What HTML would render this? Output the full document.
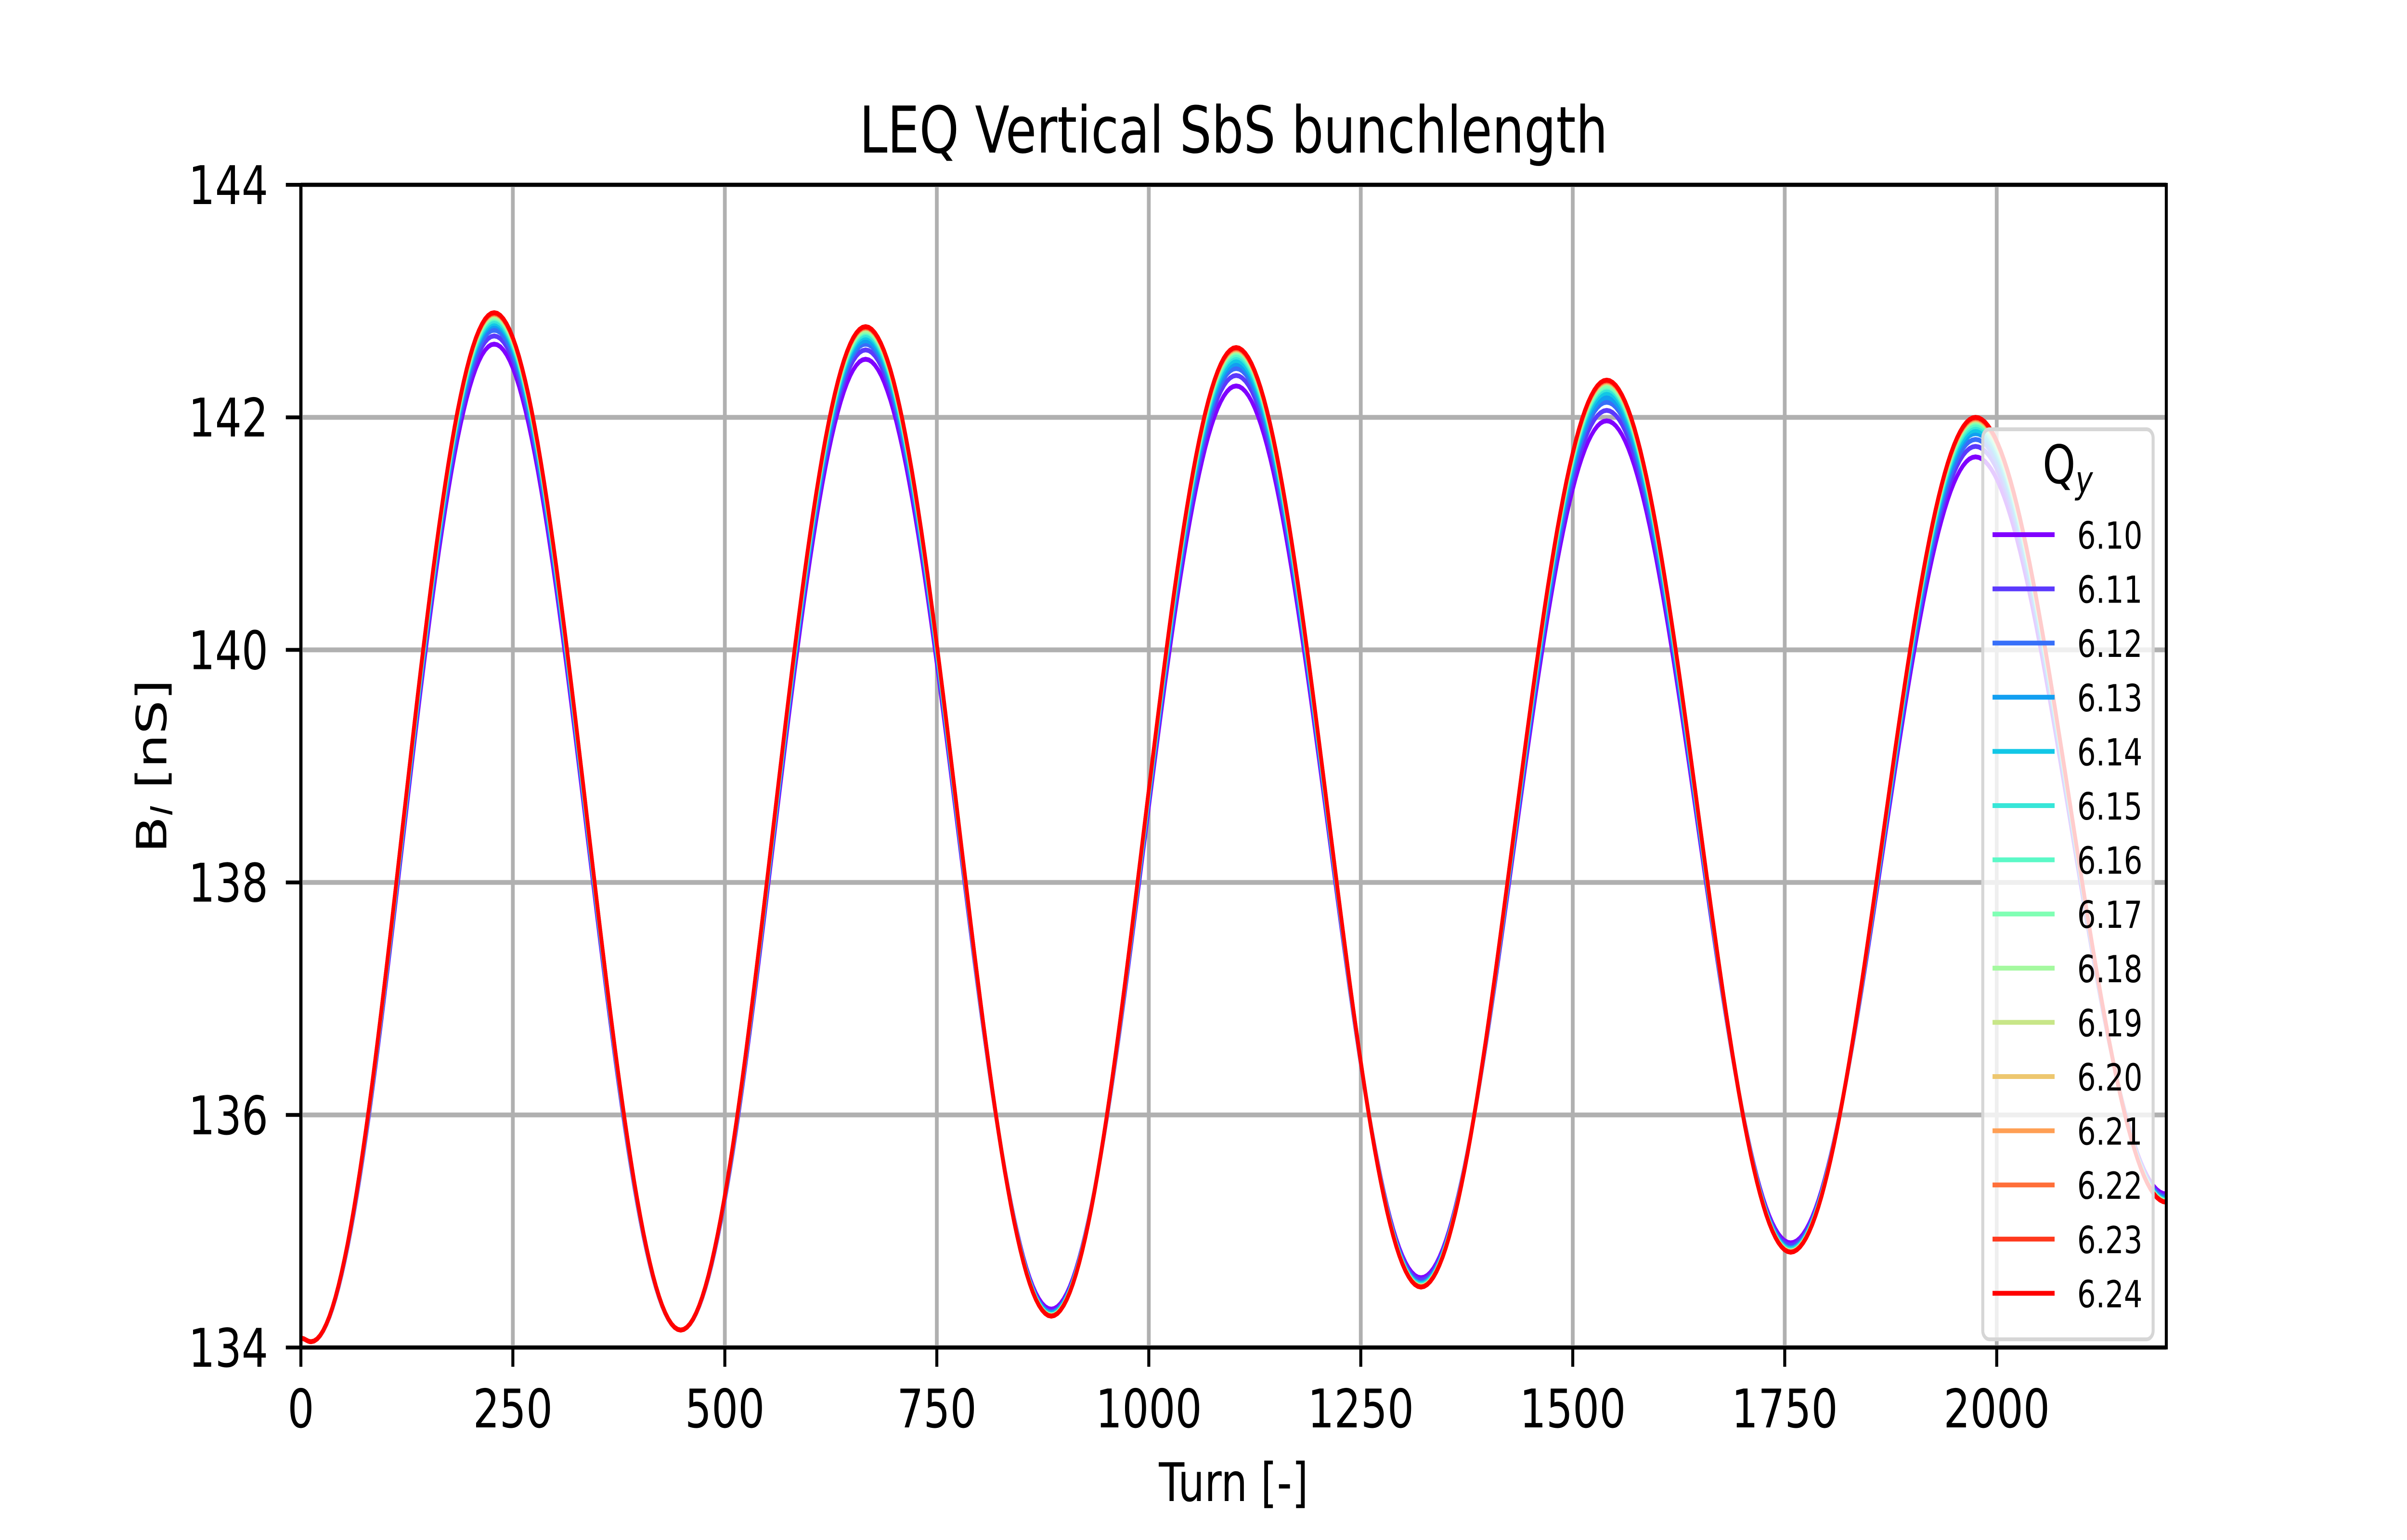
<!DOCTYPE html>
<html><head><meta charset="utf-8"><style>
html,body{margin:0;padding:0;background:#fff;width:100%;height:100%;overflow:hidden;}
svg{display:block;width:100vw;height:100vh;font-family:"DejaVu Sans","Liberation Sans",sans-serif;}
</style></head><body>
<svg id="chart" viewBox="0 0 6400 3200" preserveAspectRatio="none" xmlns="http://www.w3.org/2000/svg">
<rect x="0" y="0" width="6400" height="3200" fill="#fff"/>
<g id="grid"></g>
<g id="series"></g>
<g id="axes"></g>
<text x="3280" y="317" font-size="134" text-anchor="middle">LEQ Vertical SbS bunchlength</text>
<text x="3280" y="3119" font-size="111" text-anchor="middle">Turn [-]</text>
<text transform="translate(442,1592) rotate(-90)" font-size="111" text-anchor="middle">B<tspan font-size="78" font-style="italic" dy="16">l</tspan><tspan dy="-16"> [nS]</tspan></text>
<g id="legend"></g>
</svg>
<script>
const xTicks = [0, 250, 500, 750, 1000, 1250, 1500, 1750, 2000];
const yTicks = [134, 136, 138, 140, 142, 144];
const seriesLabels = ["6.10","6.11","6.12","6.13","6.14","6.15","6.16","6.17","6.18","6.19","6.20","6.21","6.22","6.23","6.24"];
const extremaTurns = [0, 12, 228, 448, 666, 885, 1103, 1321, 1540, 1757, 1975, 2200];
const q610 = [134.08,134.05,142.63,134.15,142.50,134.33,142.27,134.60,141.97,134.90,141.66,135.32];
const q611 = [134.08,134.05,142.70,134.15,142.58,134.31,142.36,134.58,142.06,134.88,141.75,135.30];
const q612 = [134.08,134.05,142.75,134.15,142.63,134.30,142.42,134.56,142.13,134.86,141.81,135.29];
const q613 = [134.08,134.05,142.79,134.15,142.66,134.30,142.46,134.55,142.17,134.85,141.86,135.28];
const q614 = [134.08,134.05,142.81,134.15,142.69,134.29,142.49,134.55,142.21,134.85,141.89,135.27];
const q615 = [134.08,134.05,142.83,134.15,142.71,134.28,142.52,134.54,142.24,134.84,141.92,135.27];
const q616 = [134.08,134.05,142.85,134.15,142.73,134.28,142.54,134.53,142.26,134.83,141.94,135.26];
const q617 = [134.08,134.05,142.86,134.15,142.74,134.28,142.56,134.53,142.27,134.83,141.96,135.26];
const q618 = [134.08,134.05,142.87,134.15,142.75,134.28,142.57,134.53,142.29,134.83,141.97,135.26];
const q619 = [134.08,134.05,142.88,134.15,142.76,134.27,142.58,134.53,142.30,134.83,141.98,135.25];
const q620 = [134.08,134.05,142.89,134.15,142.77,134.27,142.58,134.52,142.30,134.82,141.98,135.25];
const q621 = [134.08,134.05,142.89,134.15,142.77,134.27,142.59,134.52,142.31,134.82,141.99,135.25];
const q622 = [134.08,134.05,142.89,134.15,142.77,134.27,142.59,134.52,142.31,134.82,141.99,135.25];
const q623 = [134.08,134.05,142.90,134.15,142.78,134.27,142.60,134.52,142.32,134.82,142.00,135.25];
const q624 = [134.08,134.05,142.90,134.15,142.78,134.27,142.60,134.52,142.32,134.82,142.00,135.25];
const seriesValues = [q610,q611,q612,q613,q614,q615,q616,q617,q618,q619,q620,q621,q622,q623,q624];

const NS = "http://www.w3.org/2000/svg";
const L = 800, R = 5760, T = 384, B = 2800;
const xMin = 0, xMax = 2200, yMin = 134, yMax = 144;
function xs(v){ return L + (v - xMin) / (xMax - xMin) * (R - L); }
function ys(v){ return B - (v - yMin) / (yMax - yMin) * (B - T); }
function mk(tag, attrs, parent){ const e = document.createElementNS(NS, tag); for (const k in attrs) e.setAttribute(k, attrs[k]); parent.appendChild(e); return e; }
function rainbow(x){
  const r = Math.abs(2*x - 0.5);
  const g = Math.sin(Math.PI * x);
  const b = Math.cos(Math.PI * x / 2);
  const h = c => Math.round(Math.min(1, Math.max(0, c)) * 255);
  return `rgb(${h(r)},${h(g)},${h(b)})`;
}

const grid = document.getElementById('grid');
xTicks.forEach(t => {
  const ln = mk('line', {x1: xs(t), x2: xs(t), y1: T, y2: B, stroke: '#b0b0b0', 'stroke-width': 10}, grid);
  
  
});
yTicks.forEach(t => {
  const ln = mk('line', {x1: L, x2: R, y1: ys(t), y2: ys(t), stroke: '#b0b0b0', 'stroke-width': 10}, grid);
  
  
});

const sg = document.getElementById('series');
seriesValues.forEach((vals, i) => {
  const color = rainbow(i / (seriesValues.length - 1));
  let d = '';
  for (let s = 0; s < extremaTurns.length - 1; s++) {
    const t0 = extremaTurns[s], t1 = extremaTurns[s+1], v0 = vals[s], v1 = vals[s+1];
    const n = 60;
    for (let k = (s === 0 ? 0 : 1); k <= n; k++) {
      const u = k / n;
      const t = t0 + (t1 - t0) * u;
      const v = v0 + (v1 - v0) * (1 - Math.cos(Math.PI * u)) / 2;
      d += (d ? 'L' : 'M') + xs(t).toFixed(1) + ' ' + ys(v).toFixed(1);
    }
  }
  const p = mk('path', {d: d, fill: 'none', stroke: color, 'stroke-width': 10, 'stroke-linejoin': 'round'}, sg);
  
  
});

const ax = document.getElementById('axes');
const frame = mk('rect', {x: L, y: T, width: R - L, height: B - T, fill: 'none', stroke: '#000', 'stroke-width': 8}, ax);


xTicks.forEach(t => {
  const tk = mk('line', {x1: xs(t), x2: xs(t), y1: B, y2: B + 40, stroke: '#000', 'stroke-width': 8}, ax);
  
  
  const tx = mk('text', {x: xs(t), y: 2966, 'font-size': 111, 'text-anchor': 'middle'}, ax);
  tx.textContent = String(t);
  
  
});
yTicks.forEach(t => {
  const tk = mk('line', {x1: L - 40, x2: L, y1: ys(t), y2: ys(t), stroke: '#000', 'stroke-width': 8}, ax);
  
  
  const tx = mk('text', {x: 713, y: ys(t) + 40, 'font-size': 111, 'text-anchor': 'end'}, ax);
  tx.textContent = String(t);
  
  
});

const lg = document.getElementById('legend');
const box = mk('rect', {x: 5272, y: 892, width: 453, height: 1891, rx: 18, fill: 'rgba(255,255,255,0.8)', stroke: '#d6d6d6', 'stroke-width': 8}, lg);


const lt = mk('text', {x: 5498, y: 1004, 'font-size': 111, 'text-anchor': 'middle'}, lg);
lt.innerHTML = 'Q<tspan font-size="78" font-style="italic" dy="20">y</tspan>';


seriesLabels.forEach((lab, i) => {
  const y = 1111 + i * 112.6;
  const color = rainbow(i / (seriesLabels.length - 1));
  const g = mk('g', {}, lg);
  
  
  const hl = mk('line', {x1: 5298, x2: 5463, y1: y, y2: y, stroke: color, 'stroke-width': 10}, g);
  
  
  const tx = mk('text', {x: 5523, y: y + 29, 'font-size': 78}, g);
  tx.textContent = lab;
  
  
});
</script>
</body></html>
